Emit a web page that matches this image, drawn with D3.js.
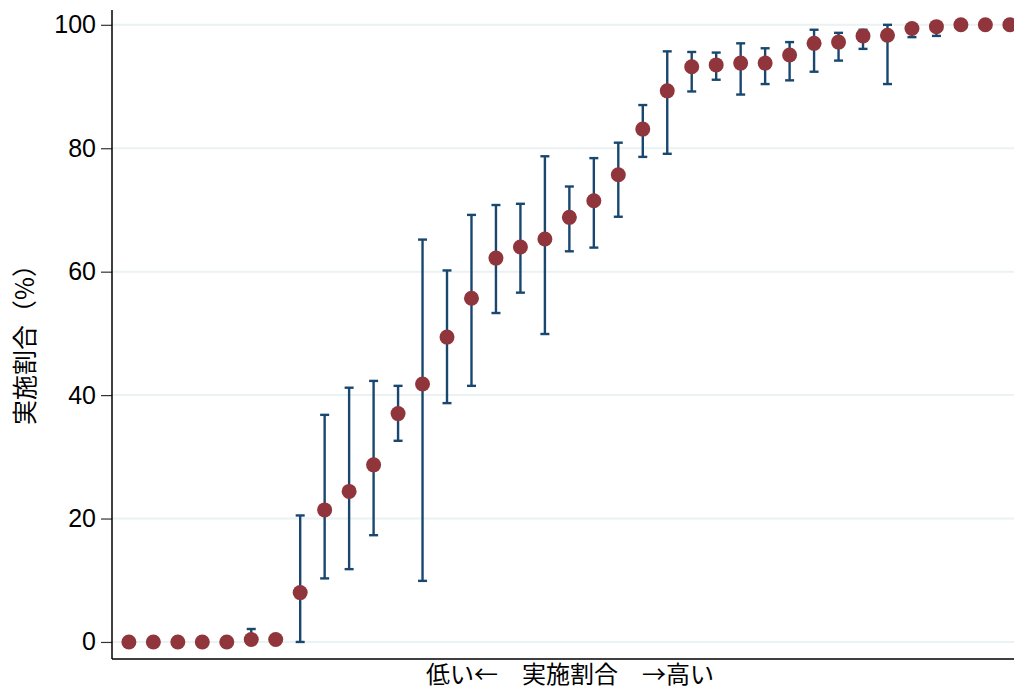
<!DOCTYPE html>
<html>
<head>
<meta charset="utf-8">
<script src="https://cdn.jsdelivr.net/npm/d3@7"></script>
<style>
  html, body { margin: 0; padding: 0; background: #fff; }
  svg { display: block; }
</style>
</head>
<body>
<svg id="chart" width="1014" height="690"></svg>
<script>
// Implementation rate (%) by group, ordered from lowest to highest, with confidence intervals
const groups = d3.range(37);
const rate = [0, 0, 0, 0, 0, 0.4, 0.4, 8.0, 21.4, 24.4, 28.7, 37.0, 41.8, 49.4, 55.7, 62.2, 64.0, 65.3, 68.8, 71.5, 75.7, 83.1, 89.3, 93.2, 93.5, 93.8, 93.8, 95.1, 97.0, 97.2, 98.2, 98.3, 99.4, 99.7, 100, 100, 100];
const upper = [null, null, null, null, null, 2.1, null, 20.5, 36.8, 41.2, 42.3, 41.5, 65.2, 60.2, 69.2, 70.8, 71.0, 78.7, 73.8, 78.4, 80.9, 87.0, 95.7, 95.6, 95.5, 97.0, 96.2, 97.2, 99.2, 98.7, 99.2, 100, 100, 100, null, null, null];
const lower = [null, null, null, null, null, 0, null, 0, 10.3, 11.8, 17.3, 32.6, 9.9, 38.7, 41.5, 53.3, 56.6, 49.9, 63.3, 63.9, 68.9, 78.6, 79.1, 89.2, 91.1, 88.7, 90.4, 91.0, 92.4, 94.2, 96.1, 90.4, 98.0, 98.2, null, null, null];
const yTicks = [0, 20, 40, 60, 80, 100];
const yTitle = "実施割合（%）";
const xTitle = "低い←　実施割合　→高い";

const svg = d3.select("#chart");
const plot = { left: 112, right: 1014, top: 10, bottom: 659 };

const x = d3.scaleLinear().domain([-0.69, 36.17]).range([plot.left, plot.right]);
const y = d3.scaleLinear().domain([-2.76, 102.4]).range([plot.bottom, plot.top]);

const numFont = "'Liberation Sans', Arial, sans-serif";
const cjkFont = "'Noto Sans CJK JP', 'Noto Sans', sans-serif";

// horizontal grid lines
svg.append("g")
  .selectAll("line")
  .data(yTicks)
  .join("line")
  .attr("x1", plot.left)
  .attr("x2", plot.right)
  .attr("y1", d => y(d))
  .attr("y2", d => y(d))
  .attr("stroke", "#EAF2F3")
  .attr("stroke-width", 2);

// y axis
const yAxis = d3.axisLeft(y).tickValues(yTicks).tickSize(11).tickPadding(5).tickSizeOuter(0);
const gy = svg.append("g")
  .attr("transform", `translate(${plot.left},0)`)
  .call(yAxis);
gy.select(".domain").remove();
gy.selectAll(".tick line").attr("stroke", "#333").attr("stroke-width", 1.2);
gy.selectAll(".tick text")
  .attr("font-family", numFont)
  .attr("font-size", 25)
  .attr("fill", "#000");

// axis frame lines
svg.append("line")
  .attr("x1", plot.left).attr("x2", plot.left)
  .attr("y1", plot.top).attr("y2", plot.bottom)
  .attr("stroke", "#000").attr("stroke-width", 1.5);
svg.append("line")
  .attr("x1", plot.left).attr("x2", plot.right)
  .attr("y1", plot.bottom).attr("y2", plot.bottom)
  .attr("stroke", "#000").attr("stroke-width", 1.5);

// confidence intervals
const ci = groups.filter(i => upper[i] !== null && lower[i] !== null);
const barColor = "#1A476F";
const capHalf = 4.5;
const gci = svg.append("g").attr("stroke", barColor).attr("stroke-width", 2.4);
gci.selectAll("line.v")
  .data(ci)
  .join("line")
  .attr("class", "v")
  .attr("x1", i => x(i)).attr("x2", i => x(i))
  .attr("y1", i => y(upper[i])).attr("y2", i => y(lower[i]));
gci.selectAll("line.u")
  .data(ci)
  .join("line")
  .attr("class", "u")
  .attr("x1", i => x(i) - capHalf).attr("x2", i => x(i) + capHalf)
  .attr("y1", i => y(upper[i])).attr("y2", i => y(upper[i]));
gci.selectAll("line.l")
  .data(ci)
  .join("line")
  .attr("class", "l")
  .attr("x1", i => x(i) - capHalf).attr("x2", i => x(i) + capHalf)
  .attr("y1", i => y(lower[i])).attr("y2", i => y(lower[i]));

// point estimates
svg.append("g")
  .selectAll("circle")
  .data(groups)
  .join("circle")
  .attr("cx", i => x(i))
  .attr("cy", i => y(rate[i]))
  .attr("r", 7.5)
  .attr("fill", "#90353B");

// axis titles
svg.append("text")
  .attr("transform", `translate(34,${(plot.top + plot.bottom) / 2 + 4}) rotate(-90)`)
  .attr("text-anchor", "middle")
  .attr("font-family", cjkFont)
  .attr("font-size", 25)
  .attr("fill", "#000")
  .text(yTitle);

svg.append("text")
  .attr("x", 570)
  .attr("y", 683)
  .attr("text-anchor", "middle")
  .attr("font-family", cjkFont)
  .attr("font-size", 24)
  .attr("fill", "#000")
  .text(xTitle);
</script>
</body>
</html>
